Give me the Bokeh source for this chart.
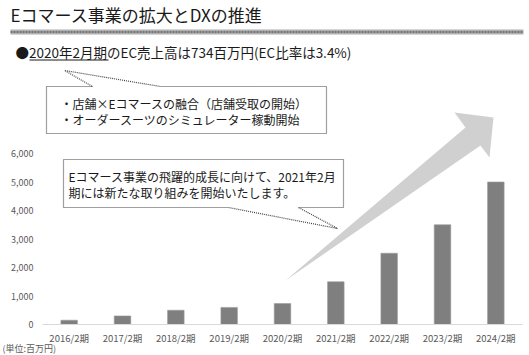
from bokeh.plotting import figure
from bokeh.models import Range1d, FixedTicker, NumeralTickFormatter, ColumnDataSource
from bokeh.core.properties import value
from bokeh.embed import file_html
from bokeh.resources import INLINE

# ---------------- data ----------------
categories = ["2016/2期", "2017/2期", "2018/2期", "2019/2期", "2020/2期",
              "2021/2期", "2022/2期", "2023/2期", "2024/2期"]
sales = [150, 300, 500, 600, 734, 1500, 2500, 3500, 5000]
y_ticks = [0, 1000, 2000, 3000, 4000, 5000, 6000]

title_text = "Eコマース事業の拡大とDXの推進"
headline = "●2020年2月期のEC売上高は734百万円(EC比率は3.4%)"
note1 = ["・店舗×Eコマースの融合（店舗受取の開始）", "・オーダースーツのシミュレーター稼動開始"]
note2 = ["Eコマース事業の飛躍的成長に向けて、2021年2月", "期には新たな取り組みを開始いたします。"]
unit_text = "(単位:百万円)"

# ---------------- layout ----------------
W, H = 529, 355
FL, FR, FT, FB = 42, 522, 0, 324      # plot frame in page pixels
ZERO_PX, TOP_PX = 324, 153            # pixel rows of 0 and 6,000
Y_MAX = 6000 * (FB - FT) / (ZERO_PX - TOP_PX)
FONT = value("Noto Sans CJK JP")

# category slots: slot i is centred at i + 0.5
slot = [i + 0.5 for i in range(len(categories))]
src = ColumnDataSource(dict(x=slot, top=sales, cat=categories))

p = figure(width=W, height=H, title=None,
           x_range=Range1d(0, len(categories)),
           y_range=Range1d(0, Y_MAX),
           output_backend="svg", toolbar_location=None,
           min_border_left=FL, min_border_right=W - FR,
           min_border_top=FT, min_border_bottom=H - FB)
p.extra_x_ranges = {"px": Range1d(FL, FR)}
p.extra_y_ranges = {"px": Range1d(FB, FT)}
p.outline_line_color = None
p.xgrid.visible = False
p.ygrid.visible = False
p.background_fill_color = "white"
p.border_fill_color = "white"

# axes
p.xaxis.ticker = FixedTicker(ticks=slot)
p.xaxis.major_label_overrides = {s: c for s, c in zip(slot, categories)}
p.xaxis.axis_line_color = "#d9d9d9"
p.xaxis.major_tick_line_color = None
p.xaxis.minor_tick_line_color = None
p.xaxis.major_tick_out = 0
p.xaxis.major_tick_in = 0
p.xaxis.major_label_standoff = 6
p.xaxis.major_label_text_font = "Noto Sans CJK JP"
p.xaxis.major_label_text_font_size = "9.5px"
p.xaxis.major_label_text_color = "#595959"

p.yaxis.axis_line_color = None
p.yaxis.major_tick_line_color = None
p.yaxis.minor_tick_line_color = None
p.yaxis.major_tick_out = 0
p.yaxis.major_tick_in = 0
p.yaxis.major_label_standoff = 9
p.yaxis.ticker = FixedTicker(ticks=y_ticks)
p.yaxis.formatter = NumeralTickFormatter(format="0,0")
p.yaxis.major_label_text_font = "Noto Sans CJK JP"
p.yaxis.major_label_text_font_size = "9px"
p.yaxis.major_label_text_color = "#595959"

# bars
p.vbar(x="x", top="top", width=0.31, source=src, fill_color="#7f7f7f",
       line_color="#9a9a9a", line_width=0.6)

px = dict(x_range_name="px", y_range_name="px", level="overlay")

# growth arrow
p.patch(x=[285, 465, 454, 493, 489, 480], y=[280, 127, 112, 117, 157, 145],
        fill_color="#d0d0d0", line_color=None, **px)

# title and rule
p.text(x=[10], y=[13.5], text=[title_text], text_font=FONT, text_font_size="17px",
       text_baseline="middle", text_align="left", text_color="#1a1a1a", **px)
p.line(x=[10, 523], y=[31.5, 31.5], line_color="#b0b0b0", line_width=5, **px)
p.line(x=[10, 523], y=[31.5, 31.5], line_color="#3a3a3a", line_width=1.2,
       line_dash="2 1", **px)

# headline
p.text(x=[15], y=[51], text=[headline], text_font=FONT, text_font_size="13.5px",
       text_baseline="middle", text_align="left", text_color="#1a1a1a", **px)
p.line(x=[29, 108], y=[59.5, 59.5], line_color="#1a1a1a", line_width=1, **px)

# callout 1
p.line(x=[92, 46, 46, 326, 326, 160, 64, 92], y=[86, 86, 133, 133, 86, 86, 70, 86],
       line_color="#404040", line_width=1.2, line_dash="1 1", **px)
p.text(x=[60, 60], y=[103, 119], text=note1, text_font=FONT, text_font_size="12px",
       text_baseline="middle", text_align="left", text_color="#1a1a1a", **px)

# callout 2
p.line(x=[298, 343, 343, 63, 63, 228, 337, 298], y=[207, 207, 159, 159, 207, 207, 228, 207],
       line_color="#404040", line_width=1.2, line_dash="1 1", **px)
p.text(x=[68, 68], y=[176, 192], text=note2, text_font=FONT, text_font_size="12px",
       text_baseline="middle", text_align="left", text_color="#1a1a1a", **px)

# unit note
p.text(x=[2], y=[348], text=[unit_text], text_font=FONT, text_font_size="9px",
       text_baseline="middle", text_align="left", text_color="#595959", **px)

open("out.html", "w").write(file_html(p, INLINE))
